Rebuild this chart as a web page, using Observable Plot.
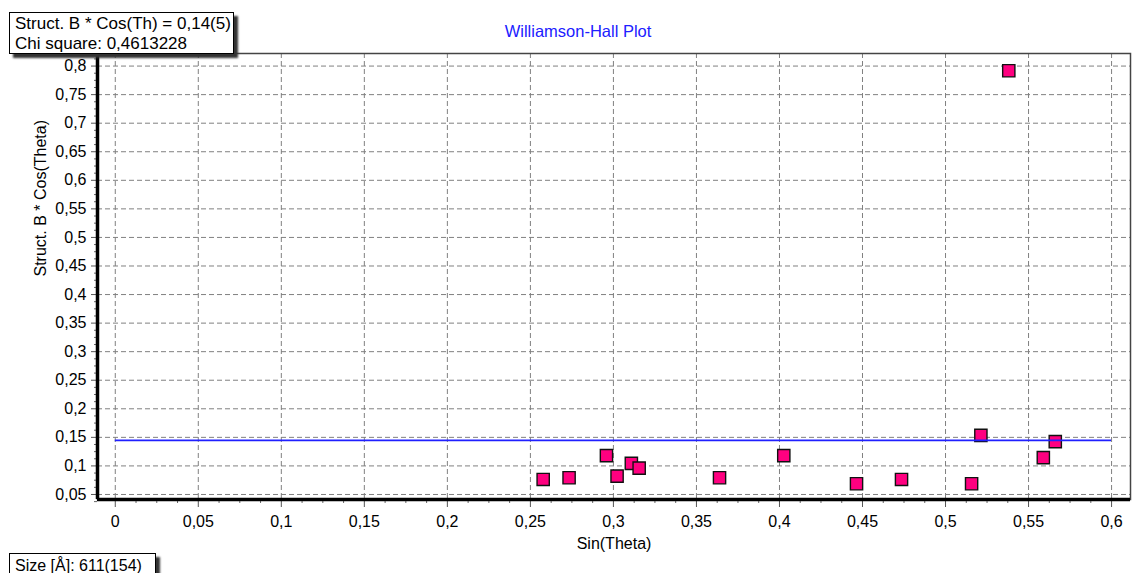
<!DOCTYPE html>
<html>
<head>
<meta charset="utf-8">
<script src="https://cdn.jsdelivr.net/npm/d3@7"></script>
<script src="https://cdn.jsdelivr.net/npm/@observablehq/plot@0.6"></script>
<style>
  html, body { margin: 0; padding: 0; background: #fff; }
  #wrap { position: relative; width: 1148px; height: 573px; overflow: hidden;
          font-family: "Liberation Sans", Arial, sans-serif; }
  .note { position: absolute; background: #fff; border: 1px solid #000;
          box-shadow: 4px 4px 2px #333; line-height: 20px;
          color: #000; padding: 0 4px; white-space: nowrap; box-sizing: border-box; }
</style>
</head>
<body>
<div id="wrap"></div>
<script>
// Williamson-Hall data: sin(theta) against structural breadth * cos(theta)
const sinTheta  = [0.2577, 0.2733, 0.2958, 0.3022, 0.3108, 0.3155, 0.3639, 0.4026,
                   0.4464, 0.4735, 0.5157, 0.5213, 0.5381, 0.5589, 0.5661];
const bCosTheta = [0.0763, 0.0793, 0.1179, 0.0821, 0.1044, 0.0961, 0.0793, 0.1179,
                   0.0688, 0.0763, 0.0688, 0.1535, 0.7918, 0.1144, 0.1425];

// Fit results
const fitValue = 0.1447;   // constant fit of B*cos(theta)
const fitError = 5;        // uncertainty on last digit
const chiSquare = "0,4613228";
const sizeValue = 611, sizeError = 154;

// Axis ticks
const xTicks = [0, 0.05, 0.1, 0.15, 0.2, 0.25, 0.3, 0.35, 0.4, 0.45, 0.5, 0.55, 0.6];
const yTicks = [0.05, 0.1, 0.15, 0.2, 0.25, 0.3, 0.35, 0.4, 0.45, 0.5, 0.55, 0.6, 0.65, 0.7, 0.75, 0.8];
const xMinor = d3.range(0, 48).map(i => i * 0.0125).filter((v, i) => i % 4 !== 0);
const yMinor = d3.range(3, 66).map(i => i * 0.0125).filter((v, i) => (i + 3) % 4 !== 0);

const xDomain = [-0.0107, 0.6114];
const yDomain = [0.0412, 0.822];

const comma = v => String(v).replace(".", ",");
const points = sinTheta.map((x, i) => ({x, y: bCosTheta[i]}));
const grid = {stroke: "#808080", strokeOpacity: 1, strokeDasharray: "5,3"};

const chart = Plot.plot({
  width: 1148,
  height: 573,
  marginLeft: 97,
  marginRight: 18,
  marginTop: 53,
  marginBottom: 74,
  style: {fontFamily: "'Liberation Sans', Arial, sans-serif", fontSize: "16px", color: "#000", background: "#fff"},
  x: {domain: xDomain},
  y: {domain: yDomain},
  marks: [
    Plot.gridX(xTicks, grid),
    Plot.gridY(yTicks, grid),
    Plot.axisX(xMinor, {tickSize: 4, tickFormat: () => "", label: null, stroke: "#666"}),
    Plot.axisY(yMinor, {tickSize: 3, tickFormat: () => "", label: null, stroke: "#666"}),
    Plot.axisX(xTicks, {tickSize: 8, tickPadding: 8, tickFormat: comma, label: null, stroke: "#555"}),
    Plot.axisY(yTicks, {tickSize: 6, tickPadding: 5, tickFormat: comma, label: null, stroke: "#555"}),
    Plot.frame({stroke: "#444", strokeWidth: 1.5}),
    Plot.ruleX([xDomain[0]], {stroke: "#000", strokeWidth: 3.5}),
    Plot.ruleY([yDomain[0]], {stroke: "#000", strokeWidth: 3.5}),
    Plot.dot(points, {x: "x", y: "y", symbol: "square", r: 6.9, fill: "#ff0080", stroke: "#111", strokeWidth: 1.4}),
    Plot.ruleY([fitValue], {x1: 0, x2: 0.6, stroke: "#2020ff", strokeWidth: 1.6}),
    Plot.text(["Sin(Theta)"], {frameAnchor: "bottom", dy: 49}),
    Plot.text(["Struct. B * Cos(Theta)"], {frameAnchor: "left", dx: -57, rotate: -90}),
    Plot.text(["Williamson-Hall Plot"], {frameAnchor: "top", dx: -36, dy: -28, fill: "#2020ff", fontSize: 16.5})
  ]
});

const wrap = document.getElementById("wrap");
wrap.appendChild(chart);

// Result boxes
const fitBox = document.createElement("div");
fitBox.className = "note";
fitBox.style.cssText = "left:9px;top:12px;width:225px;height:42px;padding:1px 0 0 5px;font-size:17px;";
fitBox.innerHTML = `Struct. B * Cos(Th) = ${comma(fitValue.toFixed(2))}(${fitError})<br>Chi square: ${chiSquare}`;
wrap.appendChild(fitBox);

const sizeBox = document.createElement("div");
sizeBox.className = "note";
sizeBox.style.cssText = "left:9px;top:553px;width:147px;height:24px;padding:2px 0 0 5px;font-size:16px;";
sizeBox.textContent = `Size [Å]: ${sizeValue}(${sizeError})`;
wrap.appendChild(sizeBox);
</script>
</body>
</html>
